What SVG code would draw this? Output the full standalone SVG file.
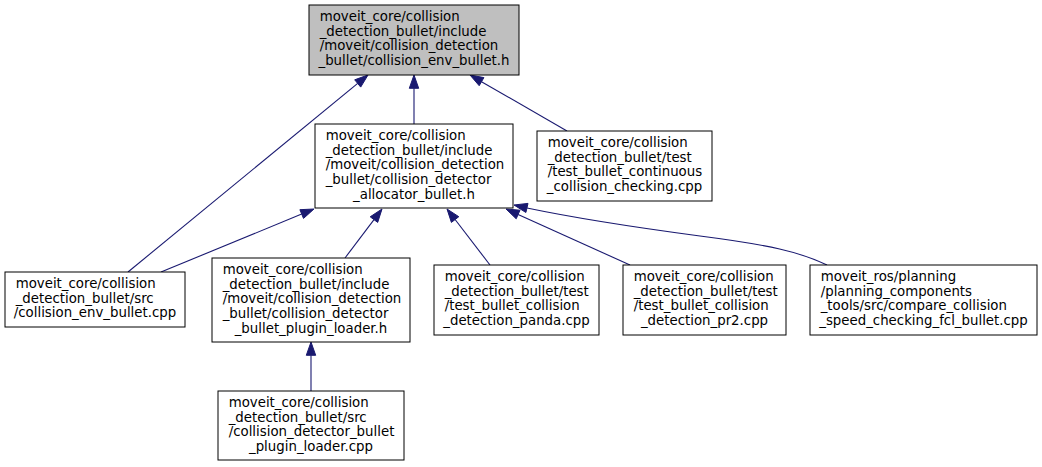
<svg xmlns="http://www.w3.org/2000/svg" width="1042" height="467" viewBox="0 0 1042 467">
<style>
  .bx { fill: #ffffff; stroke: #000000; stroke-width: 1; }
  .hl { fill: #bfbfbf; }
  text { font-family: "DejaVu Sans", "Liberation Sans", sans-serif; font-size: 13.33px; fill: #000000; }
  .m { text-anchor: middle; }
  .e { fill: none; stroke: #191970; stroke-width: 1.1; }
  .ah { fill: #191970; stroke: #191970; stroke-width: 1; }
</style>
<rect width="1042" height="467" fill="#ffffff"/>
<g id="edges">
  <path class="e" d="M414,124 L414,88.3"/>
  <polygon class="ah" points="414,75 409.3,88.3 418.7,88.3"/>
  <path class="e" d="M567,131 L481.5,81.7"/>
  <polygon class="ah" points="470,75 483.9,77.6 479.2,85.7"/>
  <path class="e" d="M128,272 L357.7,83.4"/>
  <polygon class="ah" points="368,75 360.7,87.1 354.7,79.8"/>
  <path class="e" d="M161,272 L301.7,214.1"/>
  <polygon class="ah" points="314,209 303.5,218.4 299.9,209.7"/>
  <path class="e" d="M345,258 L374,219.6"/>
  <polygon class="ah" points="382,209 377.7,222.4 370.2,216.8"/>
  <path class="e" d="M490,265 L455.1,219.5"/>
  <polygon class="ah" points="447,209 458.8,216.7 451.4,222.4"/>
  <path class="e" d="M630,265 L518.1,214.5"/>
  <polygon class="ah" points="506,209 520,210.2 516.2,218.8"/>
  <path class="e" d="M827,265 C800,252 770,245 700,236 C640,228 570,217 527,208"/>
  <polygon class="ah" points="514,205 528,203.4 525.9,212.5"/>
  <path class="e" d="M311,391 L311,355.3"/>
  <polygon class="ah" points="311,342 306.3,355.3 315.7,355.3"/>
</g>
<g id="node_top">
  <rect class="bx hl" x="309" y="5" width="210" height="70"/>
  <text x="319.7" y="21">moveit_core/collision</text>
  <text x="319.7" y="35.7">_detection_bullet/include</text>
  <text x="319.7" y="50.3">/moveit/collision_detection</text>
  <text class="m" x="414" y="65">_bullet/collision_env_bullet.h</text>
</g>
<g id="node_allocator">
  <rect class="bx" x="315" y="124" width="198" height="84"/>
  <text x="325.7" y="140">moveit_core/collision</text>
  <text x="325.7" y="154.7">_detection_bullet/include</text>
  <text x="325.7" y="169.3">/moveit/collision_detection</text>
  <text x="325.7" y="184">_bullet/collision_detector</text>
  <text class="m" x="414" y="198.7">_allocator_bullet.h</text>
</g>
<g id="node_continuous">
  <rect class="bx" x="537" y="131" width="175" height="70"/>
  <text x="547.7" y="147">moveit_core/collision</text>
  <text x="547.7" y="161.7">_detection_bullet/test</text>
  <text x="547.7" y="176.3">/test_bullet_continuous</text>
  <text class="m" x="624.5" y="191">_collision_checking.cpp</text>
</g>
<g id="node_env_cpp">
  <rect class="bx" x="5" y="272" width="180" height="55"/>
  <text x="15.7" y="288">moveit_core/collision</text>
  <text x="15.7" y="302.7">_detection_bullet/src</text>
  <text class="m" x="95" y="317.3">/collision_env_bullet.cpp</text>
</g>
<g id="node_plugin_h">
  <rect class="bx" x="212" y="258" width="198" height="84"/>
  <text x="222.7" y="274">moveit_core/collision</text>
  <text x="222.7" y="288.7">_detection_bullet/include</text>
  <text x="222.7" y="303.3">/moveit/collision_detection</text>
  <text x="222.7" y="318">_bullet/collision_detector</text>
  <text class="m" x="311" y="332.7">_bullet_plugin_loader.h</text>
</g>
<g id="node_panda">
  <rect class="bx" x="434" y="265" width="165" height="70"/>
  <text x="444.7" y="281">moveit_core/collision</text>
  <text x="444.7" y="295.7">_detection_bullet/test</text>
  <text x="444.7" y="310.3">/test_bullet_collision</text>
  <text class="m" x="516.5" y="325">_detection_panda.cpp</text>
</g>
<g id="node_pr2">
  <rect class="bx" x="623" y="265" width="163" height="70"/>
  <text x="633.7" y="281">moveit_core/collision</text>
  <text x="633.7" y="295.7">_detection_bullet/test</text>
  <text x="633.7" y="310.3">/test_bullet_collision</text>
  <text class="m" x="704.5" y="325">_detection_pr2.cpp</text>
</g>
<g id="node_compare">
  <rect class="bx" x="810" y="265" width="227" height="70"/>
  <text x="820.7" y="281">moveit_ros/planning</text>
  <text x="820.7" y="295.7">/planning_components</text>
  <text x="820.7" y="310.3">_tools/src/compare_collision</text>
  <text class="m" x="923.5" y="325">_speed_checking_fcl_bullet.cpp</text>
</g>
<g id="node_plugin_cpp">
  <rect class="bx" x="218" y="391" width="186" height="69"/>
  <text x="228.7" y="407">moveit_core/collision</text>
  <text x="228.7" y="421.7">_detection_bullet/src</text>
  <text x="228.7" y="436.3">/collision_detector_bullet</text>
  <text class="m" x="311" y="451">_plugin_loader.cpp</text>
</g>
</svg>
